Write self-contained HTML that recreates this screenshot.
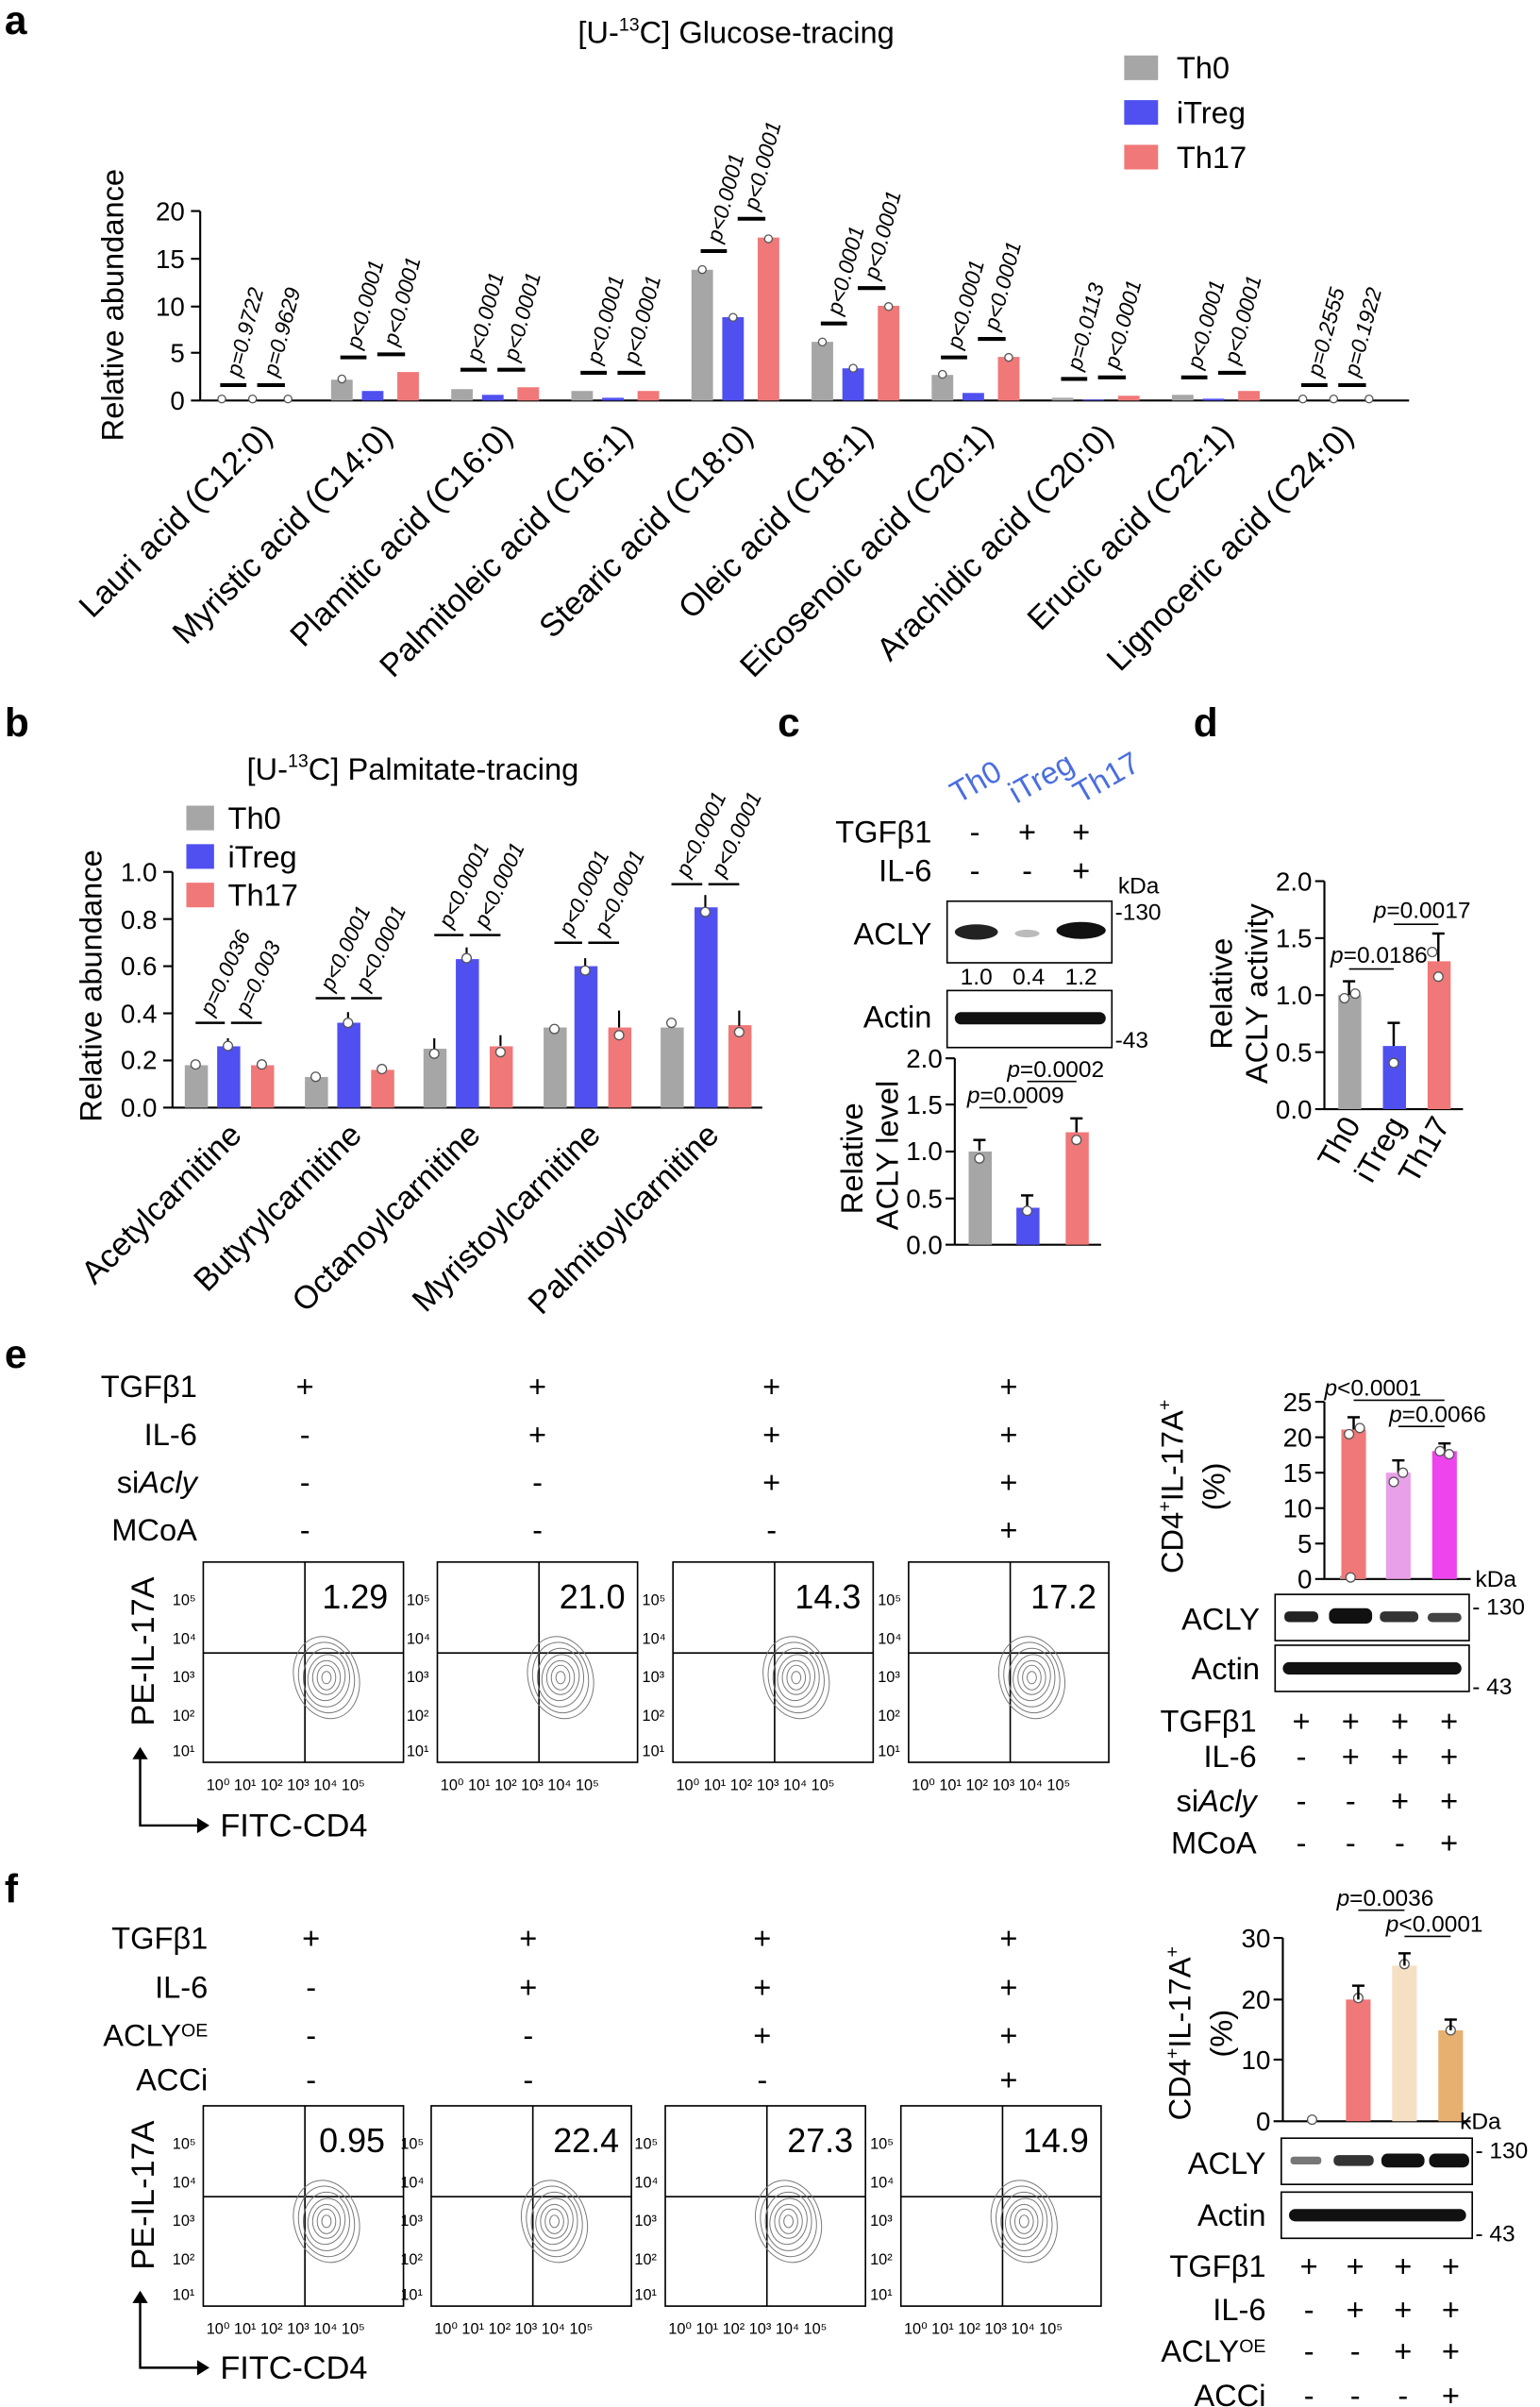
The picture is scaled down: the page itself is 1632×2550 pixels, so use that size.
<!DOCTYPE html>
<html><head><meta charset="utf-8"><style>
html,body{margin:0;padding:0;background:#fff}
svg{display:block}
text{font-family:"Liberation Sans",sans-serif;fill:#000}
.t{font-size:17px}.s{font-size:15px}.p{font-size:14px;font-style:italic}
.cat{font-size:20px}
.L{font-size:26px;font-weight:bold}
.fx{font-size:10px}
</style></head><body>
<svg width="1632" height="2550" viewBox="0 0 1000 1562.5" xmlns="http://www.w3.org/2000/svg">
<defs>
<g id="ct" fill="none" stroke="#777" stroke-width="0.6">
<ellipse rx="21" ry="27" transform="rotate(-15)"/><ellipse rx="18" ry="23" transform="rotate(-10)"/><ellipse rx="15" ry="19"/><ellipse rx="12" ry="15" transform="rotate(10)"/><ellipse rx="9" ry="11"/><ellipse rx="6" ry="8"/><ellipse rx="3" ry="4"/>
</g>
<g id="fb">
<rect x="0" y="0" width="130" height="130" fill="none" stroke="#000" stroke-width="1"/>
<line x1="66" y1="0" x2="66" y2="130" stroke="#000" stroke-width="1"/>
<line x1="0" y1="59" x2="130" y2="59" stroke="#000" stroke-width="1"/>
<use href="#ct" x="80" y="75"/>
</g>
</defs>

<!-- ===== Panel a ===== -->
<text x="3" y="22" class="L">a</text>
<text x="478" y="28" class="cat" text-anchor="middle">[U-<tspan font-size="12" dy="-8">13</tspan><tspan dy="8">C] Glucose-tracing</tspan></text>
<rect x="730" y="36" width="22" height="16" fill="#a6a6a6"/><text x="764" y="51" class="cat">Th0</text>
<rect x="730" y="65" width="22" height="16" fill="#5050f0"/><text x="764" y="80" class="cat">iTreg</text>
<rect x="730" y="94" width="22" height="16" fill="#f07878"/><text x="764" y="109" class="cat">Th17</text>
<text transform="translate(80,198) rotate(-90)" class="cat" text-anchor="middle">Relative abundance</text>
<g stroke="#000" stroke-width="1.3">
<line x1="130" y1="137" x2="130" y2="260"/><line x1="130" y1="260" x2="915" y2="260"/>
<line x1="124" y1="137" x2="130" y2="137"/><line x1="124" y1="168" x2="130" y2="168"/><line x1="124" y1="199" x2="130" y2="199"/><line x1="124" y1="229" x2="130" y2="229"/><line x1="124" y1="260" x2="130" y2="260"/>
</g>
<g class="t" text-anchor="end"><text x="120" y="143">20</text><text x="120" y="174">15</text><text x="120" y="205">10</text><text x="120" y="235">5</text><text x="120" y="266">0</text></g>
<g>
<rect x="215" y="246.5" width="14" height="13.5" fill="#a6a6a6"/><rect x="235" y="253.8" width="14" height="6.2" fill="#5050f0"/><rect x="258" y="241.5" width="14" height="18.5" fill="#f07878"/>
<rect x="293" y="252.6" width="14" height="7.4" fill="#a6a6a6"/><rect x="313" y="256.3" width="14" height="3.7" fill="#5050f0"/><rect x="336" y="251.4" width="14" height="8.6" fill="#f07878"/>
<rect x="371" y="253.8" width="14" height="6.2" fill="#a6a6a6"/><rect x="391" y="258.2" width="14" height="1.8" fill="#5050f0"/><rect x="414" y="253.8" width="14" height="6.2" fill="#f07878"/>
<rect x="449" y="175.1" width="14" height="84.9" fill="#a6a6a6"/><rect x="469" y="205.9" width="14" height="54.1" fill="#5050f0"/><rect x="492" y="154.2" width="14" height="105.8" fill="#f07878"/>
<rect x="527" y="221.9" width="14" height="38.1" fill="#a6a6a6"/><rect x="547" y="239.1" width="14" height="20.9" fill="#5050f0"/><rect x="570" y="198.5" width="14" height="61.5" fill="#f07878"/>
<rect x="605" y="243.4" width="14" height="16.6" fill="#a6a6a6"/><rect x="625" y="255.1" width="14" height="4.9" fill="#5050f0"/><rect x="648" y="231.7" width="14" height="28.3" fill="#f07878"/>
<rect x="683" y="258.2" width="14" height="1.8" fill="#a6a6a6"/><rect x="703" y="259.4" width="14" height="0.6" fill="#5050f0"/><rect x="726" y="256.9" width="14" height="3.1" fill="#f07878"/>
<rect x="761" y="256.3" width="14" height="3.7" fill="#a6a6a6"/><rect x="781" y="258.8" width="14" height="1.2" fill="#5050f0"/><rect x="804" y="253.8" width="14" height="6.2" fill="#f07878"/>
</g>
<g fill="#fff" stroke="#555" stroke-width="0.8">
<circle cx="144" cy="259" r="2.5"/><circle cx="164" cy="259" r="2.5"/><circle cx="187" cy="259" r="2.5"/>
<circle cx="846" cy="259" r="2.5"/><circle cx="866" cy="259" r="2.5"/><circle cx="889" cy="259" r="2.5"/>
<circle cx="222" cy="246" r="2.5"/><circle cx="456" cy="175" r="2.5"/><circle cx="476" cy="206" r="2.5"/><circle cx="499" cy="155" r="2.5"/><circle cx="534" cy="222" r="2.5"/><circle cx="554" cy="239" r="2.5"/><circle cx="577" cy="199" r="2.5"/><circle cx="655" cy="232" r="2.5"/><circle cx="612" cy="243" r="2.5"/>
</g>
<g stroke="#000" stroke-width="2.5">
<line x1="143" y1="250" x2="160" y2="250"/><line x1="167" y1="250" x2="185" y2="250"/>
<line x1="221" y1="232" x2="238" y2="232"/><line x1="245" y1="230" x2="263" y2="230"/>
<line x1="299" y1="240" x2="316" y2="240"/><line x1="323" y1="240" x2="341" y2="240"/>
<line x1="377" y1="242" x2="394" y2="242"/><line x1="401" y1="242" x2="419" y2="242"/>
<line x1="455" y1="163" x2="472" y2="163"/><line x1="479" y1="142" x2="497" y2="142"/>
<line x1="533" y1="210" x2="550" y2="210"/><line x1="557" y1="187" x2="575" y2="187"/>
<line x1="611" y1="232" x2="628" y2="232"/><line x1="635" y1="220" x2="653" y2="220"/>
<line x1="689" y1="246" x2="706" y2="246"/><line x1="713" y1="245" x2="731" y2="245"/>
<line x1="767" y1="245" x2="784" y2="245"/><line x1="791" y1="242" x2="809" y2="242"/>
<line x1="845" y1="250" x2="862" y2="250"/><line x1="869" y1="250" x2="887" y2="250"/>
</g>
<g class="p">
<text transform="translate(156,245) rotate(-75)">p=0.9722</text><text transform="translate(180,245) rotate(-75)">p=0.9629</text>
<text transform="translate(234,227) rotate(-75)">p&lt;0.0001</text><text transform="translate(258,225) rotate(-75)">p&lt;0.0001</text>
<text transform="translate(312,235) rotate(-75)">p&lt;0.0001</text><text transform="translate(336,235) rotate(-75)">p&lt;0.0001</text>
<text transform="translate(390,237) rotate(-75)">p&lt;0.0001</text><text transform="translate(414,237) rotate(-75)">p&lt;0.0001</text>
<text transform="translate(468,158) rotate(-75)">p&lt;0.0001</text><text transform="translate(492,137) rotate(-75)">p&lt;0.0001</text>
<text transform="translate(546,205) rotate(-75)">p&lt;0.0001</text><text transform="translate(570,182) rotate(-75)">p&lt;0.0001</text>
<text transform="translate(624,227) rotate(-75)">p&lt;0.0001</text><text transform="translate(648,215) rotate(-75)">p&lt;0.0001</text>
<text transform="translate(702,241) rotate(-75)">p=0.0113</text><text transform="translate(726,240) rotate(-75)">p&lt;0.0001</text>
<text transform="translate(780,240) rotate(-75)">p&lt;0.0001</text><text transform="translate(804,237) rotate(-75)">p&lt;0.0001</text>
<text transform="translate(858,245) rotate(-75)">p=0.2555</text><text transform="translate(882,245) rotate(-75)">p=0.1922</text>
</g>
<g class="cat" text-anchor="end" style="font-size:21px">
<text transform="translate(178,284) rotate(-45)">Lauri acid (C12:0)</text>
<text transform="translate(256,284) rotate(-45)">Myristic acid (C14:0)</text>
<text transform="translate(334,284) rotate(-45)">Plamitic acid (C16:0)</text>
<text transform="translate(412,284) rotate(-45)">Palmitoleic acid (C16:1)</text>
<text transform="translate(490,284) rotate(-45)">Stearic acid (C18:0)</text>
<text transform="translate(568,284) rotate(-45)">Oleic acid (C18:1)</text>
<text transform="translate(646,284) rotate(-45)">Eicosenoic acid (C20:1)</text>
<text transform="translate(724,284) rotate(-45)">Arachidic acid (C20:0)</text>
<text transform="translate(802,284) rotate(-45)">Erucic acid (C22:1)</text>
<text transform="translate(880,284) rotate(-45)">Lignoceric acid (C24:0)</text>
</g>

<!-- ===== Panel b ===== -->
<text x="3" y="478" class="L">b</text>
<text x="268" y="506" class="cat" text-anchor="middle">[U-<tspan font-size="12" dy="-8">13</tspan><tspan dy="8">C] Palmitate-tracing</tspan></text>
<rect x="121" y="523" width="18" height="16" fill="#a6a6a6"/><text x="148" y="538" class="cat">Th0</text>
<rect x="121" y="548" width="18" height="16" fill="#5050f0"/><text x="148" y="563" class="cat">iTreg</text>
<rect x="121" y="573" width="18" height="16" fill="#f07878"/><text x="148" y="588" class="cat">Th17</text>
<text transform="translate(66,640) rotate(-90)" class="cat" text-anchor="middle">Relative abundance</text>
<g stroke="#000" stroke-width="1.3">
<line x1="112" y1="566" x2="112" y2="719"/><line x1="112" y1="719" x2="495" y2="719"/>
<line x1="106" y1="566" x2="112" y2="566"/><line x1="106" y1="596.6" x2="112" y2="596.6"/><line x1="106" y1="627.2" x2="112" y2="627.2"/><line x1="106" y1="657.8" x2="112" y2="657.8"/><line x1="106" y1="688.4" x2="112" y2="688.4"/><line x1="106" y1="719" x2="112" y2="719"/>
</g>
<g class="t" text-anchor="end"><text x="102" y="572">1.0</text><text x="102" y="603">0.8</text><text x="102" y="633">0.6</text><text x="102" y="664">0.4</text><text x="102" y="694">0.2</text><text x="102" y="725">0.0</text></g>
<g>
<rect x="120" y="691.5" width="15" height="27.5" fill="#a6a6a6"/><rect x="141" y="679.2" width="15" height="39.8" fill="#5050f0"/><rect x="163" y="691.5" width="15" height="27.5" fill="#f07878"/>
<rect x="198" y="699.1" width="15" height="19.9" fill="#a6a6a6"/><rect x="219" y="663.9" width="15" height="55.1" fill="#5050f0"/><rect x="241" y="694.5" width="15" height="24.5" fill="#f07878"/>
<rect x="275" y="680.8" width="15" height="38.2" fill="#a6a6a6"/><rect x="296" y="622.6" width="15" height="96.4" fill="#5050f0"/><rect x="318" y="679.2" width="15" height="39.8" fill="#f07878"/>
<rect x="353" y="667" width="15" height="52" fill="#a6a6a6"/><rect x="373" y="627.2" width="15" height="91.8" fill="#5050f0"/><rect x="395" y="667" width="15" height="52" fill="#f07878"/>
<rect x="429" y="667" width="15" height="52" fill="#a6a6a6"/><rect x="451" y="589" width="15" height="130" fill="#5050f0"/><rect x="473" y="665.5" width="15" height="53.5" fill="#f07878"/>
</g>
<g stroke="#000" stroke-width="1.3">
<line x1="148" y1="674" x2="148" y2="679"/><line x1="226" y1="657" x2="226" y2="664"/><line x1="303" y1="615" x2="303" y2="623"/><line x1="380" y1="622" x2="380" y2="627"/><line x1="458" y1="581" x2="458" y2="589"/>
<line x1="282" y1="674" x2="282" y2="681"/><line x1="325" y1="672" x2="325" y2="679"/><line x1="402" y1="656" x2="402" y2="667"/><line x1="480" y1="656" x2="480" y2="666"/>
</g>
<g fill="#fff" stroke="#555" stroke-width="0.8">
<circle cx="127" cy="691" r="3"/><circle cx="148" cy="679" r="3"/><circle cx="170" cy="691" r="3"/><circle cx="205" cy="699" r="3"/><circle cx="226" cy="664" r="3"/><circle cx="248" cy="694" r="3"/><circle cx="282" cy="684" r="3"/><circle cx="303" cy="622" r="3"/><circle cx="325" cy="683" r="3"/><circle cx="360" cy="668" r="3"/><circle cx="380" cy="630" r="3"/><circle cx="402" cy="672" r="3"/><circle cx="436" cy="664" r="3"/><circle cx="458" cy="592" r="3"/><circle cx="480" cy="670" r="3"/>
</g>
<g stroke="#000" stroke-width="1.5">
<line x1="127" y1="664" x2="146" y2="664"/><line x1="150" y1="664" x2="170" y2="664"/>
<line x1="205" y1="648" x2="224" y2="648"/><line x1="228" y1="648" x2="248" y2="648"/>
<line x1="282" y1="607" x2="301" y2="607"/><line x1="305" y1="607" x2="325" y2="607"/>
<line x1="360" y1="612" x2="378" y2="612"/><line x1="382" y1="612" x2="402" y2="612"/>
<line x1="436" y1="574" x2="456" y2="574"/><line x1="460" y1="574" x2="480" y2="574"/>
</g>
<g class="p">
<text transform="translate(138,660) rotate(-65)">p=0.0036</text><text transform="translate(161,660) rotate(-65)">p=0.003</text>
<text transform="translate(216,644) rotate(-65)">p&lt;0.0001</text><text transform="translate(239,644) rotate(-65)">p&lt;0.0001</text>
<text transform="translate(293,603) rotate(-65)">p&lt;0.0001</text><text transform="translate(316,603) rotate(-65)">p&lt;0.0001</text>
<text transform="translate(371,608) rotate(-65)">p&lt;0.0001</text><text transform="translate(394,608) rotate(-65)">p&lt;0.0001</text>
<text transform="translate(447,570) rotate(-65)">p&lt;0.0001</text><text transform="translate(470,570) rotate(-65)">p&lt;0.0001</text>
</g>
<g class="cat" text-anchor="end" style="font-size:21px">
<text transform="translate(158,738) rotate(-45)">Acetylcarnitine</text>
<text transform="translate(236,738) rotate(-45)">Butyrylcarnitine</text>
<text transform="translate(313,738) rotate(-45)">Octanoylcarnitine</text>
<text transform="translate(391,738) rotate(-45)">Myristoylcarnitine</text>
<text transform="translate(468,738) rotate(-45)">Palmitoylcarnitine</text>
</g>

<!-- ===== Panel c ===== -->
<text x="505" y="478" class="L">c</text>
<text transform="translate(622,522) rotate(-30)" class="cat" style="fill:#4a6ee0">Th0</text>
<text transform="translate(660,522) rotate(-30)" class="cat" style="fill:#4a6ee0">iTreg</text>
<text transform="translate(702,522) rotate(-30)" class="cat" style="fill:#4a6ee0">Th17</text>
<text x="605" y="547" class="cat" text-anchor="end">TGFβ1</text><text x="605" y="572" class="cat" text-anchor="end">IL-6</text>
<g class="cat" text-anchor="middle"><text x="633" y="547">-</text><text x="667" y="547">+</text><text x="702" y="547">+</text><text x="633" y="572">-</text><text x="667" y="572">-</text><text x="702" y="572">+</text></g>
<text x="726" y="580" class="s">kDa</text>
<text x="605" y="613" class="cat" text-anchor="end" font-size="21">ACLY</text>
<rect x="615" y="585" width="107" height="40" fill="none" stroke="#000"/>
<ellipse cx="634" cy="605" rx="14" ry="5" fill="#222"/><ellipse cx="667" cy="606" rx="8" ry="2.5" fill="#bbb"/><ellipse cx="702" cy="604" rx="16" ry="5.5" fill="#111"/>
<text x="724" y="597" class="s">-130</text>
<g class="s" text-anchor="middle"><text x="634" y="639">1.0</text><text x="668" y="639">0.4</text><text x="702" y="639">1.2</text></g>
<text x="605" y="667" class="cat" text-anchor="end" font-size="21">Actin</text>
<rect x="615" y="643" width="107" height="37" fill="none" stroke="#000"/>
<rect x="620" y="657" width="98" height="8" rx="4" fill="#111"/>
<text x="724" y="680" class="s">-43</text>
<text transform="translate(560,752) rotate(-90)" class="cat" text-anchor="middle">Relative</text>
<text transform="translate(583,750) rotate(-90)" class="cat" text-anchor="middle">ACLY level</text>
<g stroke="#000" stroke-width="1.3">
<line x1="620" y1="687" x2="620" y2="808"/><line x1="620" y1="808" x2="715" y2="808"/>
<line x1="614" y1="687" x2="620" y2="687"/><line x1="614" y1="717" x2="620" y2="717"/><line x1="614" y1="747.5" x2="620" y2="747.5"/><line x1="614" y1="778" x2="620" y2="778"/><line x1="614" y1="808" x2="620" y2="808"/>
</g>
<g class="t" text-anchor="end"><text x="612" y="693">2.0</text><text x="612" y="723">1.5</text><text x="612" y="753">1.0</text><text x="612" y="784">0.5</text><text x="612" y="814">0.0</text></g>
<rect x="629" y="747.5" width="15" height="60.5" fill="#a6a6a6"/><rect x="660" y="784" width="15" height="24" fill="#5050f0"/><rect x="692" y="735" width="15" height="73" fill="#f07878"/>
<g stroke="#000" stroke-width="1.5"><line x1="636" y1="740" x2="636" y2="747"/><line x1="632" y1="740" x2="640" y2="740"/><line x1="667" y1="776" x2="667" y2="784"/><line x1="663" y1="776" x2="671" y2="776"/><line x1="699" y1="726" x2="699" y2="735"/><line x1="695" y1="726" x2="703" y2="726"/>
<line x1="636" y1="719" x2="667" y2="719" stroke-width="1"/><line x1="667" y1="702" x2="699" y2="702" stroke-width="1"/></g>
<g fill="#fff" stroke="#555" stroke-width="0.8"><circle cx="636" cy="752" r="3"/><circle cx="667" cy="786" r="3"/><circle cx="699" cy="740" r="3"/></g>
<text x="628" y="716" class="s"><tspan font-style="italic">p</tspan>=0.0009</text>
<text x="654" y="699" class="s"><tspan font-style="italic">p</tspan>=0.0002</text>

<!-- ===== Panel d ===== -->
<text x="775" y="478" class="L">d</text>
<text transform="translate(800,645) rotate(-90)" class="cat" text-anchor="middle">Relative</text>
<text transform="translate(823,645) rotate(-90)" class="cat" text-anchor="middle">ACLY activity</text>
<g stroke="#000" stroke-width="1.3">
<line x1="860" y1="572" x2="860" y2="720"/><line x1="860" y1="720" x2="950" y2="720"/>
<line x1="854" y1="572" x2="860" y2="572"/><line x1="854" y1="609" x2="860" y2="609"/><line x1="854" y1="646" x2="860" y2="646"/><line x1="854" y1="683" x2="860" y2="683"/><line x1="854" y1="720" x2="860" y2="720"/>
</g>
<g class="t" text-anchor="end"><text x="852" y="578">2.0</text><text x="852" y="615">1.5</text><text x="852" y="652">1.0</text><text x="852" y="689">0.5</text><text x="852" y="726">0.0</text></g>
<rect x="869" y="646" width="15" height="74" fill="#a6a6a6"/><rect x="898" y="679" width="15" height="41" fill="#5050f0"/><rect x="927" y="624" width="15" height="96" fill="#f07878"/>
<g stroke="#000" stroke-width="1.5"><line x1="876" y1="637" x2="876" y2="646"/><line x1="872" y1="637" x2="880" y2="637"/><line x1="905" y1="664" x2="905" y2="679"/><line x1="901" y1="664" x2="909" y2="664"/><line x1="934" y1="606" x2="934" y2="624"/><line x1="930" y1="606" x2="938" y2="606"/>
<line x1="876" y1="629" x2="905" y2="629" stroke-width="1"/><line x1="905" y1="600" x2="934" y2="600" stroke-width="1"/></g>
<g fill="#fff" stroke="#555" stroke-width="0.8"><circle cx="873" cy="648" r="3"/><circle cx="880" cy="645" r="3"/><circle cx="905" cy="690" r="3"/><circle cx="934" cy="634" r="3"/><circle cx="930" cy="618" r="3"/></g>
<text x="864" y="625" class="s"><tspan font-style="italic">p</tspan>=0.0186</text>
<text x="892" y="596" class="s"><tspan font-style="italic">p</tspan>=0.0017</text>
<g class="cat" text-anchor="end"><text transform="translate(884,730) rotate(-60)">Th0</text><text transform="translate(913,730) rotate(-60)">iTreg</text><text transform="translate(942,730) rotate(-60)">Th17</text></g>

<!-- ===== Panel e ===== -->
<text x="3" y="888" class="L">e</text>
<g class="cat" text-anchor="end"><text x="128" y="907">TGFβ1</text><text x="128" y="938">IL-6</text><text x="128" y="969">si<tspan font-style="italic">Acly</tspan></text><text x="128" y="1000">MCoA</text></g>
<g class="cat" text-anchor="middle">
<text x="198" y="907">+</text><text x="349" y="907">+</text><text x="501" y="907">+</text><text x="655" y="907">+</text>
<text x="198" y="938">-</text><text x="349" y="938">+</text><text x="501" y="938">+</text><text x="655" y="938">+</text>
<text x="198" y="969">-</text><text x="349" y="969">-</text><text x="501" y="969">+</text><text x="655" y="969">+</text>
<text x="198" y="1000">-</text><text x="349" y="1000">-</text><text x="501" y="1000">-</text><text x="655" y="1000">+</text>
</g>
<use href="#fb" x="132" y="1014"/><use href="#fb" x="284" y="1014"/><use href="#fb" x="437" y="1014"/><use href="#fb" x="590" y="1014"/>
<g font-size="22" text-anchor="end"><text x="252" y="1044">1.29</text><text x="406" y="1044">21.0</text><text x="559" y="1044">14.3</text><text x="712" y="1044">17.2</text></g>
<g class="fx">
<text x="134" y="1162">10⁰ 10¹ 10² 10³ 10⁴ 10⁵</text><text x="286" y="1162">10⁰ 10¹ 10² 10³ 10⁴ 10⁵</text><text x="439" y="1162">10⁰ 10¹ 10² 10³ 10⁴ 10⁵</text><text x="592" y="1162">10⁰ 10¹ 10² 10³ 10⁴ 10⁵</text>
<text x="112" y="1042">10⁵</text><text x="112" y="1067">10⁴</text><text x="112" y="1092">10³</text><text x="112" y="1117">10²</text><text x="112" y="1140">10¹</text>
<text x="264" y="1042">10⁵</text><text x="264" y="1067">10⁴</text><text x="264" y="1092">10³</text><text x="264" y="1117">10²</text><text x="264" y="1140">10¹</text>
<text x="417" y="1042">10⁵</text><text x="417" y="1067">10⁴</text><text x="417" y="1092">10³</text><text x="417" y="1117">10²</text><text x="417" y="1140">10¹</text>
<text x="570" y="1042">10⁵</text><text x="570" y="1067">10⁴</text><text x="570" y="1092">10³</text><text x="570" y="1117">10²</text><text x="570" y="1140">10¹</text>
</g>
<text transform="translate(100,1072) rotate(-90)" font-size="21" text-anchor="middle">PE-IL-17A</text>
<path d="M91 1136 V1185 H132" fill="none" stroke="#000" stroke-width="1.5"/><path d="M86 1142 L91 1134 L96 1142 Z M128 1180 L136 1185 L128 1190 Z" fill="#000"/>
<text x="143" y="1192" font-size="21">FITC-CD4</text>

<text transform="translate(768,965) rotate(-90)" class="cat" text-anchor="middle">CD4<tspan font-size="12" dy="-8">+</tspan><tspan dy="8">IL-17A</tspan><tspan font-size="12" dy="-8">+</tspan></text>
<text transform="translate(795,965) rotate(-90)" class="cat" text-anchor="middle">(%)</text>
<g stroke="#000" stroke-width="1.3">
<line x1="860" y1="910" x2="860" y2="1025"/><line x1="860" y1="1025" x2="955" y2="1025"/>
<line x1="854" y1="910" x2="860" y2="910"/><line x1="854" y1="933" x2="860" y2="933"/><line x1="854" y1="956" x2="860" y2="956"/><line x1="854" y1="979" x2="860" y2="979"/><line x1="854" y1="1002" x2="860" y2="1002"/><line x1="854" y1="1025" x2="860" y2="1025"/>
</g>
<g class="t" text-anchor="end"><text x="852" y="916">25</text><text x="852" y="939">20</text><text x="852" y="962">15</text><text x="852" y="985">10</text><text x="852" y="1008">5</text><text x="852" y="1031">0</text></g>
<rect x="870" y="1023" width="15" height="2" fill="#a6a6a6"/><rect x="871" y="928" width="16" height="97" fill="#f07878"/><rect x="900" y="956" width="16" height="69" fill="#e8a0e8"/><rect x="930" y="942" width="16" height="83" fill="#ee44ee"/>
<g stroke="#000" stroke-width="1.5"><line x1="879" y1="920" x2="879" y2="928"/><line x1="875" y1="920" x2="883" y2="920"/><line x1="908" y1="948" x2="908" y2="956"/><line x1="904" y1="948" x2="912" y2="948"/><line x1="938" y1="937" x2="938" y2="942"/><line x1="934" y1="937" x2="942" y2="937"/>
<line x1="879" y1="909" x2="938" y2="909" stroke-width="1"/><line x1="908" y1="926" x2="938" y2="926" stroke-width="1"/></g>
<g fill="#fff" stroke="#555" stroke-width="0.8"><circle cx="877" cy="1024" r="3"/><circle cx="876" cy="931" r="3"/><circle cx="883" cy="927" r="3"/><circle cx="905" cy="962" r="3"/><circle cx="911" cy="956" r="3"/><circle cx="935" cy="942" r="3"/><circle cx="941" cy="944" r="3"/></g>
<text x="860" y="906" class="s"><tspan font-style="italic">p</tspan>&lt;0.0001</text>
<text x="902" y="923" class="s"><tspan font-style="italic">p</tspan>=0.0066</text>
<text x="958" y="1030" class="s">kDa</text>
<text x="818" y="1058" class="cat" text-anchor="end" font-size="21">ACLY</text>
<rect x="828" y="1035" width="126" height="30" fill="none" stroke="#000"/>
<rect x="834" y="1046" width="22" height="7" rx="3" fill="#222"/><rect x="863" y="1044" width="28" height="10" rx="4" fill="#111"/><rect x="896" y="1046" width="25" height="7" rx="3" fill="#333"/><rect x="927" y="1047" width="22" height="6" rx="3" fill="#444"/>
<text x="956" y="1048" class="s">- 130</text>
<text x="818" y="1090" class="cat" text-anchor="end" font-size="21">Actin</text>
<rect x="828" y="1068" width="126" height="30" fill="none" stroke="#000"/>
<rect x="833" y="1079" width="116" height="8" rx="4" fill="#111"/>
<text x="956" y="1100" class="s">- 43</text>
<g class="cat" text-anchor="end"><text x="816" y="1124">TGFβ1</text><text x="816" y="1147">IL-6</text><text x="816" y="1176">si<tspan font-style="italic">Acly</tspan></text><text x="816" y="1203">MCoA</text></g>
<g class="cat" text-anchor="middle">
<text x="845" y="1124">+</text><text x="877" y="1124">+</text><text x="909" y="1124">+</text><text x="941" y="1124">+</text>
<text x="845" y="1147">-</text><text x="877" y="1147">+</text><text x="909" y="1147">+</text><text x="941" y="1147">+</text>
<text x="845" y="1176">-</text><text x="877" y="1176">-</text><text x="909" y="1176">+</text><text x="941" y="1176">+</text>
<text x="845" y="1203">-</text><text x="877" y="1203">-</text><text x="909" y="1203">-</text><text x="941" y="1203">+</text>
</g>

<!-- ===== Panel f ===== -->
<text x="3" y="1235" class="L">f</text>
<g class="cat" text-anchor="end"><text x="135" y="1265">TGFβ1</text><text x="135" y="1297">IL-6</text><text x="135" y="1328">ACLY<tspan font-size="12" dy="-6">OE</tspan></text><text x="135" y="1357">ACCi</text></g>
<g class="cat" text-anchor="middle">
<text x="202" y="1265">+</text><text x="343" y="1265">+</text><text x="495" y="1265">+</text><text x="655" y="1265">+</text>
<text x="202" y="1297">-</text><text x="343" y="1297">+</text><text x="495" y="1297">+</text><text x="655" y="1297">+</text>
<text x="202" y="1328">-</text><text x="343" y="1328">-</text><text x="495" y="1328">+</text><text x="655" y="1328">+</text>
<text x="202" y="1357">-</text><text x="343" y="1357">-</text><text x="495" y="1357">-</text><text x="655" y="1357">+</text>
</g>
<use href="#fb" x="132" y="1367"/><use href="#fb" x="280" y="1367"/><use href="#fb" x="432" y="1367"/><use href="#fb" x="585" y="1367"/>
<g font-size="22" text-anchor="end"><text x="250" y="1397">0.95</text><text x="402" y="1397">22.4</text><text x="554" y="1397">27.3</text><text x="707" y="1397">14.9</text></g>
<g class="fx">
<text x="134" y="1515">10⁰ 10¹ 10² 10³ 10⁴ 10⁵</text><text x="282" y="1515">10⁰ 10¹ 10² 10³ 10⁴ 10⁵</text><text x="434" y="1515">10⁰ 10¹ 10² 10³ 10⁴ 10⁵</text><text x="587" y="1515">10⁰ 10¹ 10² 10³ 10⁴ 10⁵</text>
<text x="112" y="1395">10⁵</text><text x="112" y="1420">10⁴</text><text x="112" y="1445">10³</text><text x="112" y="1470">10²</text><text x="112" y="1493">10¹</text>
<text x="260" y="1395">10⁵</text><text x="260" y="1420">10⁴</text><text x="260" y="1445">10³</text><text x="260" y="1470">10²</text><text x="260" y="1493">10¹</text>
<text x="412" y="1395">10⁵</text><text x="412" y="1420">10⁴</text><text x="412" y="1445">10³</text><text x="412" y="1470">10²</text><text x="412" y="1493">10¹</text>
<text x="565" y="1395">10⁵</text><text x="565" y="1420">10⁴</text><text x="565" y="1445">10³</text><text x="565" y="1470">10²</text><text x="565" y="1493">10¹</text>
</g>
<text transform="translate(100,1425) rotate(-90)" font-size="21" text-anchor="middle">PE-IL-17A</text>
<path d="M91 1489 V1537 H132" fill="none" stroke="#000" stroke-width="1.5"/><path d="M86 1495 L91 1487 L96 1495 Z M128 1532 L136 1537 L128 1542 Z" fill="#000"/>
<text x="143" y="1544" font-size="21">FITC-CD4</text>

<text transform="translate(773,1320) rotate(-90)" class="cat" text-anchor="middle">CD4<tspan font-size="12" dy="-8">+</tspan><tspan dy="8">IL-17A</tspan><tspan font-size="12" dy="-8">+</tspan></text>
<text transform="translate(800,1320) rotate(-90)" class="cat" text-anchor="middle">(%)</text>
<g stroke="#000" stroke-width="1.3">
<line x1="833" y1="1258" x2="833" y2="1377"/><line x1="833" y1="1377" x2="955" y2="1377"/>
<line x1="827" y1="1258" x2="833" y2="1258"/><line x1="827" y1="1298" x2="833" y2="1298"/><line x1="827" y1="1337" x2="833" y2="1337"/><line x1="827" y1="1377" x2="833" y2="1377"/>
</g>
<g class="t" text-anchor="end"><text x="825" y="1264">30</text><text x="825" y="1304">20</text><text x="825" y="1343">10</text><text x="825" y="1383">0</text></g>
<rect x="874" y="1298" width="16" height="79" fill="#f07878"/><rect x="904" y="1276" width="16" height="101" fill="#f5e0c3"/><rect x="934" y="1318" width="16" height="59" fill="#e8b070"/>
<g fill="#fff" stroke="#555" stroke-width="0.8"><circle cx="852" cy="1376" r="3"/><circle cx="882" cy="1297" r="3"/><circle cx="912" cy="1275" r="3"/><circle cx="942" cy="1318" r="3"/></g>
<g stroke="#000" stroke-width="1.5"><line x1="882" y1="1289" x2="882" y2="1298"/><line x1="878" y1="1289" x2="886" y2="1289"/><line x1="912" y1="1268" x2="912" y2="1276"/><line x1="908" y1="1268" x2="916" y2="1268"/><line x1="942" y1="1311" x2="942" y2="1318"/><line x1="938" y1="1311" x2="946" y2="1311"/>
<line x1="882" y1="1240" x2="912" y2="1240" stroke-width="1"/><line x1="912" y1="1257" x2="942" y2="1257" stroke-width="1"/></g>
<text x="868" y="1237" class="s"><tspan font-style="italic">p</tspan>=0.0036</text>
<text x="900" y="1254" class="s"><tspan font-style="italic">p</tspan>&lt;0.0001</text>
<text x="948" y="1382" class="s">kDa</text>
<text x="822" y="1411" class="cat" text-anchor="end" font-size="21">ACLY</text>
<rect x="832" y="1388" width="124" height="30" fill="none" stroke="#000"/>
<rect x="838" y="1400" width="20" height="5" rx="2" fill="#777"/><rect x="866" y="1399" width="26" height="7" rx="3" fill="#333"/><rect x="897" y="1398" width="28" height="9" rx="4" fill="#111"/><rect x="928" y="1398" width="26" height="9" rx="4" fill="#111"/>
<text x="958" y="1401" class="s">- 130</text>
<text x="822" y="1445" class="cat" text-anchor="end" font-size="21">Actin</text>
<rect x="832" y="1423" width="124" height="30" fill="none" stroke="#000"/>
<rect x="837" y="1434" width="115" height="8" rx="4" fill="#111"/>
<text x="958" y="1455" class="s">- 43</text>
<g class="cat" text-anchor="end"><text x="822" y="1478">TGFβ1</text><text x="822" y="1506">IL-6</text><text x="822" y="1533">ACLY<tspan font-size="12" dy="-6">OE</tspan></text><text x="822" y="1562">ACCi</text></g>
<g class="cat" text-anchor="middle">
<text x="850" y="1478">+</text><text x="880" y="1478">+</text><text x="911" y="1478">+</text><text x="942" y="1478">+</text>
<text x="850" y="1506">-</text><text x="880" y="1506">+</text><text x="911" y="1506">+</text><text x="942" y="1506">+</text>
<text x="850" y="1533">-</text><text x="880" y="1533">-</text><text x="911" y="1533">+</text><text x="942" y="1533">+</text>
<text x="850" y="1562">-</text><text x="880" y="1562">-</text><text x="911" y="1562">-</text><text x="942" y="1562">+</text>
</g>
</svg>
</body></html>
